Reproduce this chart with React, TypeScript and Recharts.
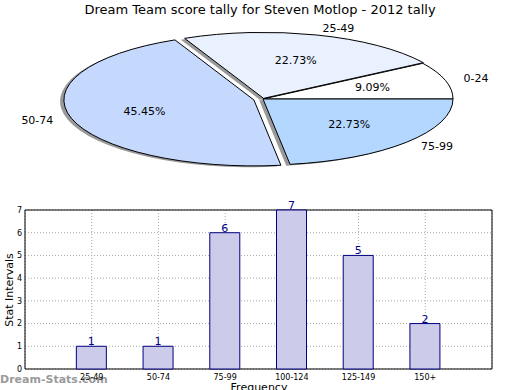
import { PieChart, Pie, BarChart, Bar, XAxis, YAxis, CartesianGrid, LabelList, ReferenceArea } from 'recharts';

// pie: score ranges and how many games fell in each
const pieCategories = ['0-24', '25-49', '50-74', '75-99'];
const pieValues = [2, 5, 10, 5];
const pieColors = ['#ffffff', '#eaf1fe', '#c5d8fd', '#b4d7ff'];
const pieExplode = [0, 0.01, 0.05, 0];

// bars: frequency per stat interval
const barCategories = ['25-49', '50-74', '75-99', '100-124', '125-149', '150+'];
const barValues = [1, 1, 6, 7, 5, 2];
const yTicks = [0, 1, 2, 3, 4, 5, 6, 7];

const FONT = '"DejaVu Sans", sans-serif';
const CX = 263;
const CY = 99;
const RX = 190;
const RY = 66;
const RAD = Math.PI / 180;

const pieData = pieCategories.map((name, i) => ({
  name,
  value: pieValues[i],
  fill: pieColors[i],
  explode: pieExplode[i],
}));

const barData = barCategories.map((name, i) => ({ pos: i + 1, name, count: barValues[i] }));

function offsetFor(mid: number, explode: number) {
  return { dx: Math.cos(mid * RAD) * explode * RX, dy: -Math.sin(mid * RAD) * explode * RY };
}

// matplotlib-style squashed pie: draw each sector as a slice of an ellipse
function ellipseSlice(a0: number, a1: number, ox: number, oy: number) {
  const cx = CX + ox;
  const cy = CY + oy;
  const x0 = cx + RX * Math.cos(a0 * RAD);
  const y0 = cy - RY * Math.sin(a0 * RAD);
  const x1 = cx + RX * Math.cos(a1 * RAD);
  const y1 = cy - RY * Math.sin(a1 * RAD);
  const large = Math.abs(a1 - a0) > 180 ? 1 : 0;
  const sweep = a1 > a0 ? 0 : 1;
  return `M${cx},${cy} L${x0},${y0} A${RX},${RY} 0 ${large} ${sweep} ${x1},${y1} Z`;
}

function getExplode(props: any) {
  const e = props.payload?.explode ?? props.explode ?? props.payload?.payload?.explode;
  return typeof e === 'number' ? e : 0;
}

function SliceShape(props: any) {
  const mid = (props.startAngle + props.endAngle) / 2;
  const { dx, dy } = offsetFor(mid, getExplode(props));
  return (
    <path
      d={ellipseSlice(props.startAngle, props.endAngle, dx, dy)}
      fill={props.payload?.fill ?? props.fill}
      stroke="#000"
      strokeWidth={1}
      strokeLinejoin="round"
    />
  );
}

function ShadowShape(props: any) {
  const mid = (props.startAngle + props.endAngle) / 2;
  const { dx, dy } = offsetFor(mid, getExplode(props));
  return (
    <path
      d={ellipseSlice(props.startAngle, props.endAngle, dx - 0.02 * RX, dy + 0.02 * RY)}
      fill="#555"
      fillOpacity={0.6}
      stroke="none"
    />
  );
}

function renderPieLabel(props: any) {
  const mid = props.midAngle;
  const { dx, dy } = offsetFor(mid, getExplode(props));
  const c = Math.cos(mid * RAD);
  const s = Math.sin(mid * RAD);
  const nx = CX + dx + c * 1.1 * RX;
  const ny = CY + dy - s * 1.1 * RY;
  const px = CX + dx + c * 0.6 * RX;
  const py = CY + dy - s * 0.6 * RY;
  return (
    <g>
      <text x={nx} y={ny} textAnchor={c > 0 ? 'start' : 'end'} dominantBaseline="central" fontSize={11} fontFamily={FONT} fill="#000">
        {props.name}
      </text>
      <text x={px} y={py} textAnchor="middle" dominantBaseline="central" fontSize={11} fontFamily={FONT} fill="#000">
        {(props.percent * 100).toFixed(2)}%
      </text>
    </g>
  );
}

export default function App() {
  return (
    <div style={{ position: 'absolute', left: 0, top: 0, width: 520, height: 390, background: '#fff', overflow: 'hidden', fontFamily: FONT }}>
      <div style={{ position: 'absolute', left: 0, top: 373, fontSize: 11, fontWeight: 'bold', color: '#9a9a9a', fontFamily: FONT }}>
        Dream-Stats.com
      </div>

      <div style={{ position: 'absolute', left: 0, top: 0 }}>
        <PieChart width={520} height={190} margin={{ top: 0, right: 0, bottom: 0, left: 0 }}>
          <Pie
            data={pieData}
            dataKey="value"
            nameKey="name"
            cx={CX}
            cy={CY}
            outerRadius={RY}
            startAngle={0}
            endAngle={360}
            stroke="none"
            shape={ShadowShape}
            activeShape={ShadowShape}
            inactiveShape={ShadowShape}
            isAnimationActive={false}
            labelLine={false}
          />
          <Pie
            data={pieData}
            dataKey="value"
            nameKey="name"
            cx={CX}
            cy={CY}
            outerRadius={RY}
            startAngle={0}
            endAngle={360}
            shape={SliceShape}
            activeShape={SliceShape}
            inactiveShape={SliceShape}
            isAnimationActive={false}
            labelLine={false}
            label={renderPieLabel}
          />
        </PieChart>
      </div>

      <div style={{ position: 'absolute', left: 0, top: 200 }}>
        <BarChart width={520} height={190} data={barData} margin={{ top: 10, right: 28, bottom: 0, left: 0 }}>
          <XAxis
            dataKey="pos"
            type="number"
            domain={[0, 7]}
            ticks={[1, 2, 3, 4, 5, 6]}
            tickFormatter={(v: number) => barCategories[v - 1] ?? ''}
            interval={0}
            height={21}
            axisLine={false}
            tickLine={false}
            tickSize={3}
            tickMargin={2}
            tick={{ fontSize: 8, fill: '#000', fontFamily: FONT }}
          />
          <YAxis
            type="number"
            domain={[0, 7]}
            ticks={yTicks}
            interval={0}
            width={25}
            axisLine={false}
            tickLine={false}
            tickSize={1}
            tickMargin={2}
            tick={{ fontSize: 8, fill: '#000', fontFamily: FONT }}
          />
          <Bar dataKey="count" barSize={30} fill="#ccccea" stroke="#000080" strokeWidth={1} isAnimationActive={false}>
            <LabelList dataKey="count" position="top" offset={1} fill="#00008b" fontSize={11} fontFamily={FONT} />
          </Bar>
          <CartesianGrid stroke="#a8a8a8" strokeDasharray="1 2" />
          <ReferenceArea x1={0} x2={7} y1={0} y2={7} fill="none" stroke="#000" strokeWidth={1} ifOverflow="visible" />
        </BarChart>
      </div>

      <div style={{ position: 'absolute', left: 0, top: 2, width: 520, textAlign: 'center', fontSize: 13, color: '#000' }}>
        Dream Team score tally for Steven Motlop - 2012 tally
      </div>
      <div
        style={{
          position: 'absolute',
          left: 9,
          top: 290,
          fontSize: 11,
          transform: 'translate(-50%, -50%) rotate(-90deg)',
          whiteSpace: 'nowrap',
        }}
      >
        Stat Intervals
      </div>
      <div style={{ position: 'absolute', left: 0, top: 381, width: 518, textAlign: 'center', fontSize: 11 }}>
        Frequency
      </div>
    </div>
  );
}
